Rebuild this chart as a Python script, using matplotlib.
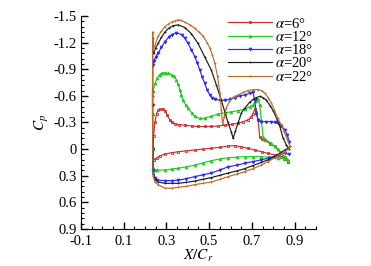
import matplotlib
matplotlib.use("Agg")
import matplotlib.pyplot as plt
from matplotlib.ticker import MultipleLocator, AutoMinorLocator

plt.rcParams["font.family"] = ["Liberation Serif", "DejaVu Serif"]
plt.rcParams["mathtext.fontset"] = "stix"
plt.rcParams["axes.unicode_minus"] = False

# ---- data (upper surface LE->TE, lower surface LE->TE) ----
labels = [r"$\alpha$=6°", r"$\alpha$=12°", r"$\alpha$=18°", r"$\alpha$=20°", r"$\alpha$=22°"]

x6_up = [0.24, 0.238, 0.24, 0.246, 0.254, 0.261, 0.27, 0.284, 0.295, 0.305, 0.316, 0.328, 0.339, 0.36,
         0.386, 0.42, 0.448, 0.48, 0.51, 0.54, 0.573, 0.605, 0.635, 0.66, 0.682, 0.695, 0.705, 0.713,
         0.72, 0.729, 0.736, 0.748, 0.76, 0.785, 0.806, 0.83, 0.853, 0.869]
cp6_up = [0.12, 0.0, -0.15, -0.30, -0.40, -0.44, -0.45, -0.45, -0.43, -0.38, -0.33, -0.30, -0.285, -0.275,
          -0.27, -0.26, -0.255, -0.255, -0.255, -0.26, -0.27, -0.28, -0.29, -0.31, -0.33, -0.36, -0.40, -0.45,
          -0.42, -0.33, -0.14, -0.11, -0.10, -0.06, -0.03, 0.03, 0.085, 0.14]
x6_lo = [0.24, 0.254, 0.27, 0.293, 0.325, 0.355, 0.39, 0.433, 0.47, 0.51, 0.55, 0.588, 0.62, 0.651,
         0.68, 0.713, 0.745, 0.775, 0.806, 0.838, 0.86, 0.869]
cp6_lo = [0.12, 0.10, 0.075, 0.055, 0.04, 0.03, 0.02, 0.01, 0.0, -0.01, -0.02, -0.035, -0.04, -0.025,
          -0.01, 0.01, 0.03, 0.047, 0.065, 0.085, 0.11, 0.14]

x12_up = [0.238, 0.236, 0.235, 0.237, 0.246, 0.257, 0.269, 0.28, 0.293, 0.308, 0.324, 0.336, 0.347, 0.355,
          0.363, 0.37, 0.378, 0.39, 0.402, 0.418, 0.433, 0.456, 0.479, 0.51, 0.541, 0.573, 0.604, 0.635,
          0.666, 0.69, 0.705, 0.718, 0.729, 0.736, 0.744, 0.752, 0.768, 0.787, 0.806, 0.822, 0.838, 0.855, 0.869]
cp12_up = [0.21, 0.0, -0.4, -0.65, -0.74, -0.80, -0.84, -0.86, -0.86, -0.855, -0.84, -0.82, -0.78, -0.73,
           -0.67, -0.61, -0.55, -0.50, -0.46, -0.41, -0.37, -0.345, -0.35, -0.37, -0.395, -0.41, -0.42, -0.435,
           -0.45, -0.48, -0.50, -0.54, -0.57, -0.50, -0.33, -0.14, -0.10, -0.07, -0.03, 0.0, 0.047, 0.09, 0.12]
x12_lo = [0.238, 0.246, 0.254, 0.293, 0.325, 0.355, 0.39, 0.433, 0.47, 0.51, 0.55, 0.588, 0.63, 0.666,
          0.705, 0.744, 0.78, 0.822, 0.85, 0.869]
cp12_lo = [0.21, 0.235, 0.235, 0.235, 0.225, 0.215, 0.20, 0.18, 0.155, 0.13, 0.11, 0.097, 0.09, 0.085,
           0.085, 0.085, 0.09, 0.10, 0.11, 0.12]

x18_up = [0.238, 0.236, 0.235, 0.236, 0.24, 0.25, 0.261, 0.277, 0.293, 0.31, 0.324, 0.347, 0.371, 0.386,
          0.401, 0.417, 0.433, 0.445, 0.456, 0.468, 0.479, 0.49, 0.503, 0.515, 0.526, 0.55, 0.573, 0.597,
          0.62, 0.643, 0.666, 0.69, 0.705, 0.713, 0.721, 0.729, 0.744, 0.768, 0.791, 0.807, 0.822, 0.838,
          0.853, 0.865, 0.875]
cp18_up = [0.25, 0.0, -0.5, -0.95, -0.99, -1.04, -1.08, -1.15, -1.21, -1.26, -1.29, -1.31, -1.29, -1.25,
           -1.19, -1.12, -1.04, -0.97, -0.89, -0.81, -0.74, -0.67, -0.61, -0.575, -0.56, -0.55, -0.55, -0.56,
           -0.58, -0.60, -0.61, -0.63, -0.64, -0.55, -0.40, -0.33, -0.31, -0.31, -0.31, -0.30, -0.29, -0.26,
           -0.22, -0.16, -0.08]
x18_lo = [0.238, 0.246, 0.254, 0.293, 0.325, 0.355, 0.39, 0.433, 0.47, 0.51, 0.55, 0.588, 0.63, 0.666,
          0.705, 0.744, 0.78, 0.822, 0.853, 0.872]
cp18_lo = [0.25, 0.32, 0.35, 0.355, 0.355, 0.35, 0.335, 0.31, 0.29, 0.27, 0.235, 0.20, 0.18, 0.16,
           0.14, 0.12, 0.10, 0.066, 0.04, 0.06]

x20_up = [0.238, 0.236, 0.235, 0.236, 0.24, 0.25, 0.261, 0.277, 0.293, 0.31, 0.331, 0.355, 0.386, 0.417,
          0.448, 0.479, 0.51, 0.534, 0.557, 0.573, 0.588, 0.604, 0.612, 0.622, 0.636, 0.651, 0.666, 0.69,
          0.705, 0.72, 0.736, 0.752, 0.768, 0.785, 0.80, 0.815, 0.83, 0.845, 0.86, 0.875]
cp20_up = [0.28, 0.0, -0.6, -1.25, -1.08, -1.14, -1.19, -1.26, -1.32, -1.36, -1.39, -1.40, -1.37, -1.30,
           -1.19, -1.04, -0.89, -0.72, -0.55, -0.42, -0.30, -0.19, -0.12, -0.20, -0.30, -0.41, -0.46, -0.53,
           -0.56, -0.58, -0.595, -0.58, -0.55, -0.49, -0.43, -0.35, -0.26, -0.13, -0.05, 0.0]
x20_lo = [0.238, 0.246, 0.261, 0.293, 0.325, 0.355, 0.39, 0.433, 0.47, 0.51, 0.55, 0.588, 0.63, 0.666,
          0.705, 0.744, 0.775, 0.806, 0.83, 0.853, 0.87, 0.878]
cp20_lo = [0.28, 0.34, 0.37, 0.385, 0.385, 0.385, 0.375, 0.36, 0.34, 0.32, 0.295, 0.27, 0.245, 0.22,
           0.185, 0.15, 0.12, 0.085, 0.05, 0.01, -0.01, -0.03]

x22_up = [0.238, 0.236, 0.235, 0.236, 0.238, 0.245, 0.261, 0.277, 0.293, 0.309, 0.324, 0.34, 0.355, 0.37,
          0.386, 0.41, 0.433, 0.452, 0.472, 0.49, 0.503, 0.515, 0.526, 0.539, 0.55, 0.557, 0.563, 0.57,
          0.58, 0.595, 0.615, 0.635, 0.66, 0.682, 0.705, 0.729, 0.745, 0.76, 0.776, 0.791, 0.805, 0.82,
          0.835, 0.85, 0.865, 0.878]
cp22_up = [0.30, 0.0, -0.6, -1.32, -1.12, -1.16, -1.27, -1.33, -1.38, -1.41, -1.43, -1.445, -1.455, -1.45,
           -1.43, -1.40, -1.36, -1.32, -1.27, -1.20, -1.14, -1.06, -0.97, -0.82, -0.63, -0.44, -0.28, -0.36,
           -0.46, -0.54, -0.59, -0.61, -0.64, -0.66, -0.67, -0.67, -0.66, -0.63, -0.58, -0.52, -0.44, -0.35,
           -0.28, -0.20, -0.11, -0.03]
x22_lo = [0.238, 0.246, 0.261, 0.293, 0.325, 0.355, 0.39, 0.433, 0.47, 0.51, 0.55, 0.588, 0.63, 0.666,
          0.705, 0.744, 0.775, 0.806, 0.83, 0.853, 0.87, 0.878]
cp22_lo = [0.30, 0.37, 0.40, 0.44, 0.44, 0.43, 0.42, 0.40, 0.385, 0.37, 0.34, 0.31, 0.28, 0.254,
           0.22, 0.18, 0.14, 0.10, 0.06, 0.03, 0.0, -0.03]

colors = ["#d42a2a", "#1ecc1e", "#2a2aff", "#1a1a1a", "#c06a28"]
markers = ["s", "^", "v", "+", "+"]

ytick_vals = [-1.5, -1.2, -0.9, -0.6, -0.3, 0, 0.3, 0.6, 0.9]
ytick_text = ["-1.5", "-1.2", "-0.9", "-0.6", "-0.3", "0", "0.3", "0.6", "0.9"]
xtick_vals = [-0.1, 0.1, 0.3, 0.5, 0.7, 0.9]
xtick_text = ["-0.1", "0.1", "0.3", "0.5", "0.7", "0.9"]

series = [
    (x6_up, cp6_up, x6_lo, cp6_lo),
    (x12_up, cp12_up, x12_lo, cp12_lo),
    (x18_up, cp18_up, x18_lo, cp18_lo),
    (x20_up, cp20_up, x20_lo, cp20_lo),
    (x22_up, cp22_up, x22_lo, cp22_lo),
]

fig = plt.figure(figsize=(3.71, 2.66), dpi=100)
ax = fig.add_axes([0.218, 0.139, 0.634, 0.801])

for (xu, cu, xl, cl), c, m, lab in zip(series, colors, markers, labels):
    xs = xu[::-1] + xl
    cs = cu[::-1] + cl
    mfc = "none" if m == "s" else c
    ax.plot(xs, cs, "-", color=c, lw=0.85, marker=m, ms=2.0, mew=0.6, mfc=mfc, label=lab)

ax.set_xlim(-0.1, 1.0)
ax.set_ylim(0.9, -1.5)
ax.set_xticks(xtick_vals)
ax.set_xticklabels(xtick_text)
ax.set_yticks(ytick_vals)
ax.set_yticklabels(ytick_text)
ax.xaxis.set_minor_locator(MultipleLocator(0.05))
ax.yaxis.set_minor_locator(AutoMinorLocator(5))
ax.tick_params(which="both", direction="in", labelsize=10.5)
ax.tick_params(axis="x", pad=4.5)
ax.tick_params(axis="y", pad=3)
ax.tick_params(which="major", length=5, width=1)
ax.tick_params(which="minor", length=2.5, width=0.8)
ax.spines["top"].set_visible(False)
ax.spines["right"].set_visible(False)

ax.set_xlabel(r"$X/C_r$", fontsize=11, labelpad=0)
ax.set_ylabel(r"$C_p$", fontsize=11, labelpad=2)

ax.legend(loc="upper right", bbox_to_anchor=(1.03, 1.045), frameon=False, fontsize=10.5,
          handlelength=3.0, handletextpad=0.2, labelspacing=-0.05, numpoints=1, borderpad=0.2)

fig.savefig("out.png", dpi=100)
